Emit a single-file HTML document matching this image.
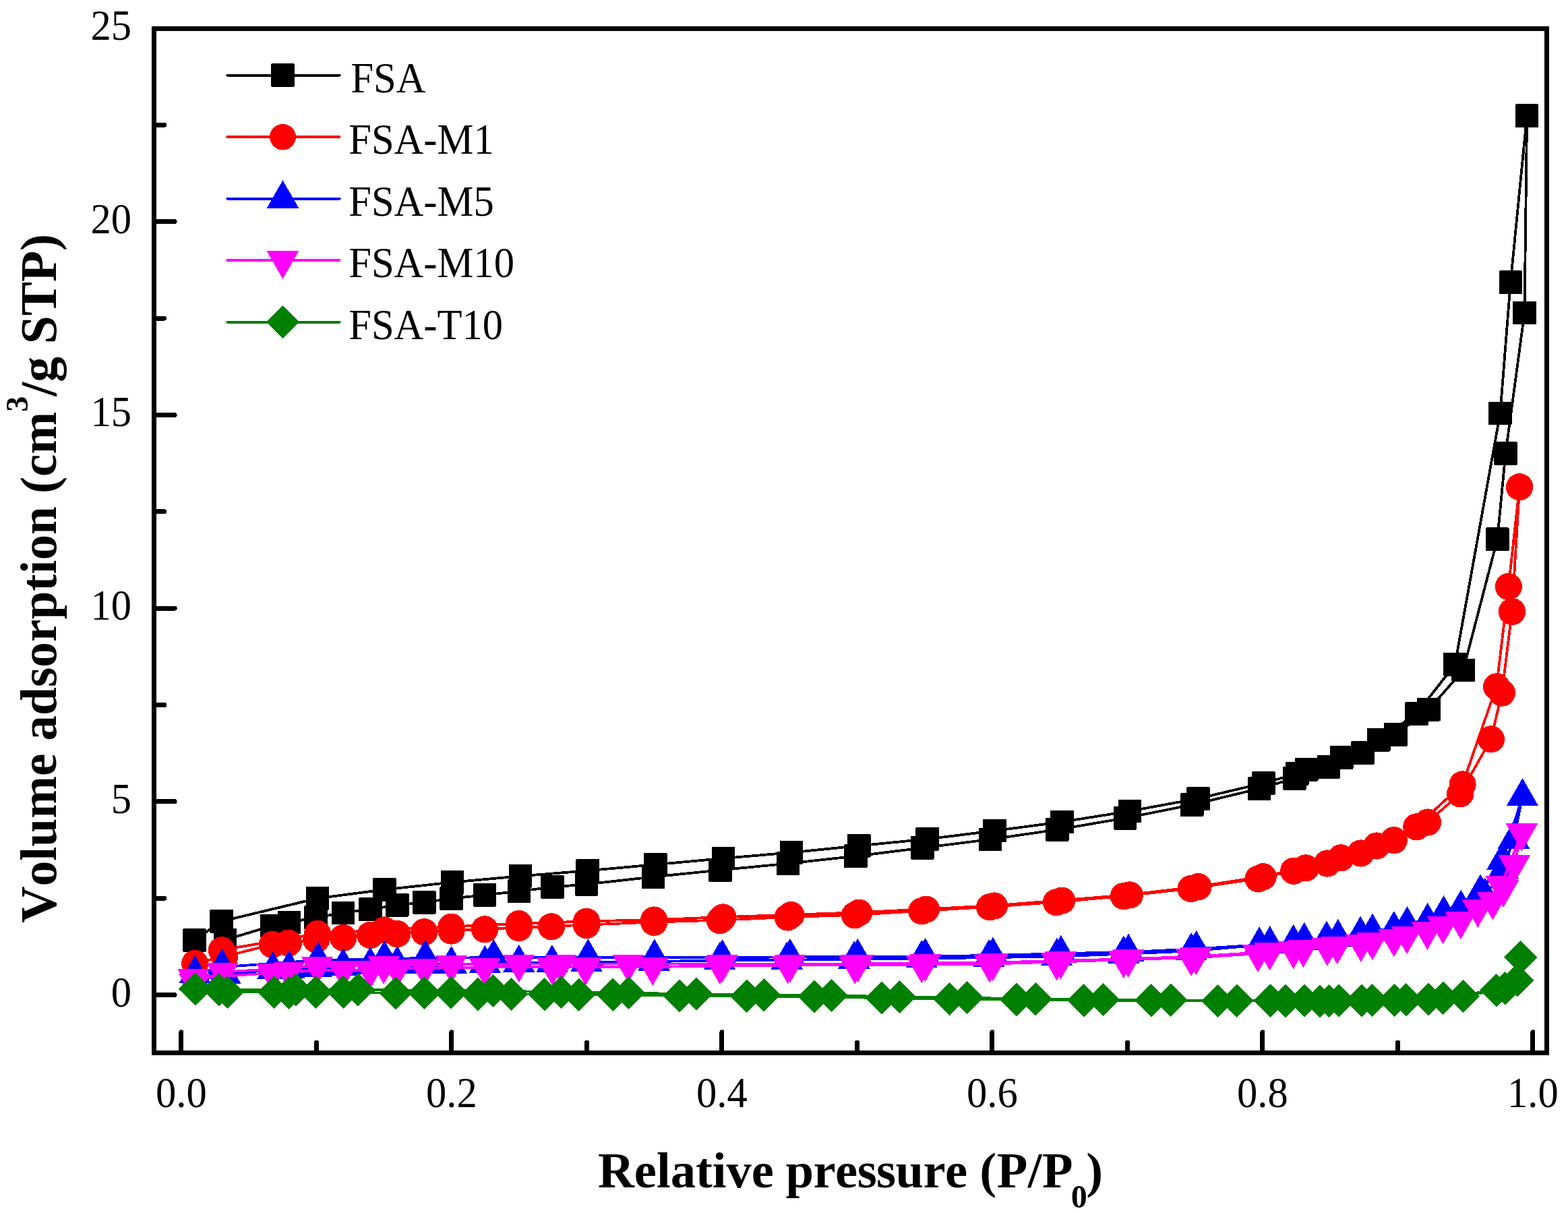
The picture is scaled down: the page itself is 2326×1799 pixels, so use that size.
<!DOCTYPE html>
<html lang="en">
<head>
<meta charset="utf-8">
<title>Volume adsorption vs Relative pressure</title>
<style>
html,body{margin:0;padding:0;background:#fff;}
body{width:2326px;height:1799px;overflow:hidden;}
svg{display:block;}
text{font-kerning:none;font-variant-ligatures:none;}
</style>
</head>
<body>
<svg width="2326" height="1799" viewBox="0 0 2326 1799" shape-rendering="crispEdges">
<rect width="2326" height="1799" fill="#fff"/>
<g fill="#000000" stroke="none">
<polyline points="333.9,1393.9 402.8,1373.3 428.9,1368.1 468.2,1360.7 509.1,1353.8 549.2,1348.6 589.3,1342.3 629.4,1338.3 669.5,1332.6 719,1327.4 769.8,1321.7 819.5,1315.7 870,1311.4 969,1300.5 1068.5,1290.4 1168.9,1280.7 1269.4,1269.7 1368.2,1257.5 1468.9,1244.9 1568.3,1230.4 1669,1213.4 1768.2,1193.6 1868.1,1169.6 1920.2,1154.4 1971.1,1137.2 2021.3,1116.6 2070.4,1089.4 2119.5,1052.2 2170.6,994 2221.2,799.7 2233.4,672.5 2261.5,463.9 2265.1,171.7 2240.8,418.7 2225.4,612.9 2158.4,985.4 2101.5,1058.3 2045.3,1097.3 1990.2,1123.5 1938.3,1141.2 1924.2,1147.5 1874.5,1161.4 1777.5,1184.3 1675.8,1203 1575.6,1218.9 1475.5,1232.1 1375.7,1244.4 1274.4,1254.3 1173.8,1264.4 1073.1,1273 972.3,1282.2 871.6,1291.3 771.8,1299.4 671.1,1308.5 570.3,1319.4 471,1332.3 328.6,1366.4 288.6,1394.5" fill="none" stroke="#000000" stroke-width="3.8" stroke-linejoin="round"/>
<rect x="316.6" y="1376.6" width="34.6" height="34.6" rx="1.5"/>
<rect x="385.5" y="1356" width="34.6" height="34.6" rx="1.5"/>
<rect x="411.6" y="1350.8" width="34.6" height="34.6" rx="1.5"/>
<rect x="450.9" y="1343.4" width="34.6" height="34.6" rx="1.5"/>
<rect x="491.8" y="1336.5" width="34.6" height="34.6" rx="1.5"/>
<rect x="531.9" y="1331.3" width="34.6" height="34.6" rx="1.5"/>
<rect x="572" y="1325" width="34.6" height="34.6" rx="1.5"/>
<rect x="612.1" y="1321" width="34.6" height="34.6" rx="1.5"/>
<rect x="652.2" y="1315.3" width="34.6" height="34.6" rx="1.5"/>
<rect x="701.7" y="1310.1" width="34.6" height="34.6" rx="1.5"/>
<rect x="752.5" y="1304.4" width="34.6" height="34.6" rx="1.5"/>
<rect x="802.2" y="1298.4" width="34.6" height="34.6" rx="1.5"/>
<rect x="852.7" y="1294.1" width="34.6" height="34.6" rx="1.5"/>
<rect x="951.7" y="1283.2" width="34.6" height="34.6" rx="1.5"/>
<rect x="1051.2" y="1273.1" width="34.6" height="34.6" rx="1.5"/>
<rect x="1151.6" y="1263.4" width="34.6" height="34.6" rx="1.5"/>
<rect x="1252.1" y="1252.4" width="34.6" height="34.6" rx="1.5"/>
<rect x="1350.9" y="1240.2" width="34.6" height="34.6" rx="1.5"/>
<rect x="1451.6" y="1227.6" width="34.6" height="34.6" rx="1.5"/>
<rect x="1551" y="1213.1" width="34.6" height="34.6" rx="1.5"/>
<rect x="1651.7" y="1196.1" width="34.6" height="34.6" rx="1.5"/>
<rect x="1750.9" y="1176.3" width="34.6" height="34.6" rx="1.5"/>
<rect x="1850.8" y="1152.3" width="34.6" height="34.6" rx="1.5"/>
<rect x="1902.9" y="1137.1" width="34.6" height="34.6" rx="1.5"/>
<rect x="1953.8" y="1119.9" width="34.6" height="34.6" rx="1.5"/>
<rect x="2004" y="1099.3" width="34.6" height="34.6" rx="1.5"/>
<rect x="2053.1" y="1072.1" width="34.6" height="34.6" rx="1.5"/>
<rect x="2102.2" y="1034.9" width="34.6" height="34.6" rx="1.5"/>
<rect x="2153.3" y="976.7" width="34.6" height="34.6" rx="1.5"/>
<rect x="2203.9" y="782.4" width="34.6" height="34.6" rx="1.5"/>
<rect x="2216.1" y="655.2" width="34.6" height="34.6" rx="1.5"/>
<rect x="2244.2" y="446.6" width="34.6" height="34.6" rx="1.5"/>
<rect x="2247.8" y="154.4" width="34.6" height="34.6" rx="1.5"/>
<rect x="2223.5" y="401.4" width="34.6" height="34.6" rx="1.5"/>
<rect x="2208.1" y="595.6" width="34.6" height="34.6" rx="1.5"/>
<rect x="2141.1" y="968.1" width="34.6" height="34.6" rx="1.5"/>
<rect x="2084.2" y="1041" width="34.6" height="34.6" rx="1.5"/>
<rect x="2028" y="1080" width="34.6" height="34.6" rx="1.5"/>
<rect x="1972.9" y="1106.2" width="34.6" height="34.6" rx="1.5"/>
<rect x="1921" y="1123.9" width="34.6" height="34.6" rx="1.5"/>
<rect x="1906.9" y="1130.2" width="34.6" height="34.6" rx="1.5"/>
<rect x="1857.2" y="1144.1" width="34.6" height="34.6" rx="1.5"/>
<rect x="1760.2" y="1167" width="34.6" height="34.6" rx="1.5"/>
<rect x="1658.5" y="1185.7" width="34.6" height="34.6" rx="1.5"/>
<rect x="1558.3" y="1201.6" width="34.6" height="34.6" rx="1.5"/>
<rect x="1458.2" y="1214.8" width="34.6" height="34.6" rx="1.5"/>
<rect x="1358.4" y="1227.1" width="34.6" height="34.6" rx="1.5"/>
<rect x="1257.1" y="1237" width="34.6" height="34.6" rx="1.5"/>
<rect x="1156.5" y="1247.1" width="34.6" height="34.6" rx="1.5"/>
<rect x="1055.8" y="1255.7" width="34.6" height="34.6" rx="1.5"/>
<rect x="955" y="1264.9" width="34.6" height="34.6" rx="1.5"/>
<rect x="854.3" y="1274" width="34.6" height="34.6" rx="1.5"/>
<rect x="754.5" y="1282.1" width="34.6" height="34.6" rx="1.5"/>
<rect x="653.8" y="1291.2" width="34.6" height="34.6" rx="1.5"/>
<rect x="553" y="1302.1" width="34.6" height="34.6" rx="1.5"/>
<rect x="453.7" y="1315" width="34.6" height="34.6" rx="1.5"/>
<rect x="311.3" y="1349.1" width="34.6" height="34.6" rx="1.5"/>
<rect x="271.2" y="1377.2" width="34.6" height="34.6" rx="1.5"/>
</g>
<g fill="#ff0000" stroke="none">
<polyline points="289.2,1428.5 333.1,1418.8 404,1400.5 427.9,1398.3 469,1393.3 509.1,1390.5 549.2,1386.5 589.3,1384.7 629.4,1381.9 669.5,1380.2 719,1377.9 769.8,1375.6 817.9,1373.9 870,1371.6 970.2,1367.5 1067.9,1364.7 1168.7,1360.1 1268,1356.9 1367.2,1350.9 1468.1,1344.9 1566.9,1337.9 1666.8,1328.8 1766.6,1317.7 1866.5,1303 1919.2,1291.3 1968.9,1280.1 2018.5,1265.1 2067.8,1245.8 2118.1,1219.1 2166.2,1177 2211.9,1095.9 2228,1027.2 2243,906.7 2254.1,721.8 2237.8,869.6 2220,1018 2169.6,1163 2101.3,1226 2042.1,1254.1 1989.2,1271.9 1936.9,1287 1873.7,1299.9 1777.5,1314.8 1675.8,1327 1575.2,1335.2 1475.1,1343.1 1373.9,1348.3 1274.2,1353.2 1173.4,1356.7 1072.5,1360.1 970.2,1364.1 870,1366.4 769.8,1369.8 669.5,1374.4 570.3,1379 471,1384.6 328.9,1408.9" fill="none" stroke="#ff0000" stroke-width="3.8" stroke-linejoin="round"/>
<circle cx="289.2" cy="1428.9" r="20.1"/>
<circle cx="333.1" cy="1419.2" r="20.1"/>
<circle cx="404" cy="1400.9" r="20.1"/>
<circle cx="427.9" cy="1398.7" r="20.1"/>
<circle cx="469" cy="1393.7" r="20.1"/>
<circle cx="509.1" cy="1390.9" r="20.1"/>
<circle cx="549.2" cy="1386.9" r="20.1"/>
<circle cx="589.3" cy="1385.1" r="20.1"/>
<circle cx="629.4" cy="1382.3" r="20.1"/>
<circle cx="669.5" cy="1380.6" r="20.1"/>
<circle cx="719" cy="1378.3" r="20.1"/>
<circle cx="769.8" cy="1376" r="20.1"/>
<circle cx="817.9" cy="1374.3" r="20.1"/>
<circle cx="870" cy="1372" r="20.1"/>
<circle cx="970.2" cy="1367.9" r="20.1"/>
<circle cx="1067.9" cy="1365.1" r="20.1"/>
<circle cx="1168.7" cy="1360.5" r="20.1"/>
<circle cx="1268" cy="1357.3" r="20.1"/>
<circle cx="1367.2" cy="1351.3" r="20.1"/>
<circle cx="1468.1" cy="1345.3" r="20.1"/>
<circle cx="1566.9" cy="1338.3" r="20.1"/>
<circle cx="1666.8" cy="1329.2" r="20.1"/>
<circle cx="1766.6" cy="1318.1" r="20.1"/>
<circle cx="1866.5" cy="1303.4" r="20.1"/>
<circle cx="1919.2" cy="1291.7" r="20.1"/>
<circle cx="1968.9" cy="1280.5" r="20.1"/>
<circle cx="2018.5" cy="1265.5" r="20.1"/>
<circle cx="2067.8" cy="1246.2" r="20.1"/>
<circle cx="2118.1" cy="1219.5" r="20.1"/>
<circle cx="2166.2" cy="1177.4" r="20.1"/>
<circle cx="2211.9" cy="1096.3" r="20.1"/>
<circle cx="2228" cy="1027.6" r="20.1"/>
<circle cx="2243" cy="907.1" r="20.1"/>
<circle cx="2254.1" cy="722.2" r="20.1"/>
<circle cx="2237.8" cy="870" r="20.1"/>
<circle cx="2220" cy="1018.4" r="20.1"/>
<circle cx="2169.6" cy="1163.4" r="20.1"/>
<circle cx="2101.3" cy="1226.4" r="20.1"/>
<circle cx="2042.1" cy="1254.5" r="20.1"/>
<circle cx="1989.2" cy="1272.3" r="20.1"/>
<circle cx="1936.9" cy="1287.4" r="20.1"/>
<circle cx="1873.7" cy="1300.3" r="20.1"/>
<circle cx="1777.5" cy="1315.2" r="20.1"/>
<circle cx="1675.8" cy="1327.4" r="20.1"/>
<circle cx="1575.2" cy="1335.6" r="20.1"/>
<circle cx="1475.1" cy="1343.5" r="20.1"/>
<circle cx="1373.9" cy="1348.7" r="20.1"/>
<circle cx="1274.2" cy="1353.6" r="20.1"/>
<circle cx="1173.4" cy="1357.1" r="20.1"/>
<circle cx="1072.5" cy="1360.5" r="20.1"/>
<circle cx="970.2" cy="1364.5" r="20.1"/>
<circle cx="870" cy="1366.8" r="20.1"/>
<circle cx="769.8" cy="1370.2" r="20.1"/>
<circle cx="669.5" cy="1374.8" r="20.1"/>
<circle cx="570.3" cy="1379.4" r="20.1"/>
<circle cx="471" cy="1385" r="20.1"/>
<circle cx="328.9" cy="1409.3" r="20.1"/>
</g>
<g fill="#0000ff" stroke="none">
<polyline points="289.4,1455.2 333.9,1445.1 404.8,1438.2 428.9,1436.9 469,1434.6 509.1,1433.4 549.2,1431.4 589.3,1430 629.4,1430 669.5,1430.2 719.4,1429.3 769.8,1428 818.9,1428.3 870,1427.1 970.2,1426 1067.5,1424.5 1167.3,1423.7 1267,1422.7 1367.2,1421.4 1467.1,1420.2 1567.7,1418.4 1666.8,1414.7 1767,1410.4 1868.1,1401.6 1918.6,1398.2 1967.9,1393 2018.1,1386.1 2067.8,1378.4 2117.7,1366.2 2167.2,1347 2202.9,1329.2 2229.4,1290.3 2245.4,1244.6 2258.5,1181.3 2228.8,1276.2 2196.1,1323.9 2141.6,1355.5 2087.4,1371.4 2035.9,1382 1984.8,1390.3 1934.7,1395.2 1883.7,1400.4 1774.7,1407.3 1674,1412 1573.8,1414.2 1472.9,1416.9 1372.5,1418.4 1272.4,1419.3 1172,1419.3 1071.5,1420.3 970.9,1419.7 872.4,1419.7 732.3,1420.1 631,1421 570.3,1422.1 471.8,1424.1 329.3,1434.2 289.2,1444.3" fill="none" stroke="#0000ff" stroke-width="3.8" stroke-linejoin="round"/>
<polygon points="289.4,1427.8 313.1,1469.1 265.7,1469.1"/>
<polygon points="333.9,1417.7 357.6,1459 310.2,1459"/>
<polygon points="404.8,1410.8 428.5,1452.1 381.1,1452.1"/>
<polygon points="428.9,1409.5 452.6,1450.8 405.2,1450.8"/>
<polygon points="469,1407.2 492.7,1448.5 445.3,1448.5"/>
<polygon points="509.1,1406 532.8,1447.3 485.4,1447.3"/>
<polygon points="549.2,1404 572.9,1445.3 525.5,1445.3"/>
<polygon points="589.3,1402.6 613,1443.9 565.6,1443.9"/>
<polygon points="629.4,1402.6 653.1,1443.9 605.7,1443.9"/>
<polygon points="669.5,1402.8 693.2,1444.1 645.8,1444.1"/>
<polygon points="719.4,1401.9 743.1,1443.2 695.7,1443.2"/>
<polygon points="769.8,1400.6 793.5,1441.9 746,1441.9"/>
<polygon points="818.9,1400.9 842.6,1442.2 795.2,1442.2"/>
<polygon points="870,1399.7 893.7,1441 846.3,1441"/>
<polygon points="970.2,1398.6 994,1439.9 946.5,1439.9"/>
<polygon points="1067.5,1397.1 1091.2,1438.4 1043.8,1438.4"/>
<polygon points="1167.3,1396.3 1191,1437.6 1143.6,1437.6"/>
<polygon points="1267,1395.3 1290.7,1436.6 1243.3,1436.6"/>
<polygon points="1367.2,1394 1390.9,1435.3 1343.5,1435.3"/>
<polygon points="1467.1,1392.8 1490.8,1434.1 1443.4,1434.1"/>
<polygon points="1567.7,1391 1591.4,1432.3 1544,1432.3"/>
<polygon points="1666.8,1387.3 1690.5,1428.6 1643.1,1428.6"/>
<polygon points="1767,1383 1790.7,1424.3 1743.3,1424.3"/>
<polygon points="1868.1,1374.2 1891.8,1415.5 1844.4,1415.5"/>
<polygon points="1918.6,1370.8 1942.3,1412.1 1894.9,1412.1"/>
<polygon points="1967.9,1365.6 1991.6,1406.9 1944.2,1406.9"/>
<polygon points="2018.1,1358.7 2041.8,1400 1994.4,1400"/>
<polygon points="2067.8,1351 2091.5,1392.3 2044.1,1392.3"/>
<polygon points="2117.7,1338.8 2141.4,1380.1 2094,1380.1"/>
<polygon points="2167.2,1319.6 2190.9,1360.9 2143.5,1360.9"/>
<polygon points="2202.9,1301.8 2226.6,1343.1 2179.2,1343.1"/>
<polygon points="2229.4,1262.9 2253.1,1304.2 2205.7,1304.2"/>
<polygon points="2245.4,1217.2 2269.1,1258.5 2221.7,1258.5"/>
<polygon points="2258.5,1153.9 2282.2,1195.2 2234.8,1195.2"/>
<polygon points="2228.8,1248.8 2252.5,1290.1 2205.1,1290.1"/>
<polygon points="2196.1,1296.5 2219.8,1337.8 2172.4,1337.8"/>
<polygon points="2141.6,1328.1 2165.3,1369.4 2117.9,1369.4"/>
<polygon points="2087.4,1344 2111.1,1385.3 2063.7,1385.3"/>
<polygon points="2035.9,1354.6 2059.6,1395.9 2012.2,1395.9"/>
<polygon points="1984.8,1362.9 2008.5,1404.2 1961.1,1404.2"/>
<polygon points="1934.7,1367.8 1958.4,1409.1 1911,1409.1"/>
<polygon points="1883.7,1373 1907.4,1414.3 1860,1414.3"/>
<polygon points="1774.7,1379.9 1798.4,1421.2 1751,1421.2"/>
<polygon points="1674,1384.6 1697.7,1425.9 1650.3,1425.9"/>
<polygon points="1573.8,1386.8 1597.5,1428.1 1550.1,1428.1"/>
<polygon points="1472.9,1389.5 1496.6,1430.8 1449.2,1430.8"/>
<polygon points="1372.5,1391 1396.2,1432.3 1348.8,1432.3"/>
<polygon points="1272.4,1391.9 1296.1,1433.2 1248.7,1433.2"/>
<polygon points="1172,1391.9 1195.7,1433.2 1148.3,1433.2"/>
<polygon points="1071.5,1392.9 1095.2,1434.2 1047.8,1434.2"/>
<polygon points="970.9,1392.3 994.6,1433.6 947.2,1433.6"/>
<polygon points="872.4,1392.3 896.1,1433.6 848.7,1433.6"/>
<polygon points="732.3,1392.7 756,1434 708.6,1434"/>
<polygon points="631,1393.6 654.7,1434.9 607.3,1434.9"/>
<polygon points="570.3,1394.7 594,1436 546.6,1436"/>
<polygon points="471.8,1396.7 495.5,1438 448.1,1438"/>
<polygon points="329.3,1406.8 353,1448.1 305.6,1448.1"/>
<polygon points="289.2,1416.9 312.9,1458.2 265.5,1458.2"/>
</g>
<g fill="#ff00ff" stroke="none">
<polyline points="287.1,1450.9 403.8,1443 428.9,1440.6 509.1,1438.6 549.2,1438.6 589.3,1436.9 629.4,1435.7 719,1434.4 819.5,1434.1 868.6,1434.1 968.2,1434.1 1067.9,1432.3 1168.7,1431.6 1268,1431.6 1367.2,1430.5 1468.1,1429.6 1567.5,1426.5 1666.8,1423.3 1767,1420.3 1866.1,1414.3 1918.6,1409.4 1968.9,1405.1 2018.9,1399.3 2067.8,1391.6 2117.3,1381.1 2166.8,1365.5 2214.4,1336.8 2230,1318.3 2246.4,1282.1 2257.5,1235.2 2226.8,1312.7 2192.3,1348.1 2140.6,1372.6 2087,1387.3 2035.9,1396.5 1983.6,1402.6 1933.3,1407.5 1883.7,1411.6 1774.3,1418.5 1673.6,1422.2 1573.4,1425 1472.9,1427.4 1372.5,1428.3 1272.6,1429.4 1172.4,1429.4 1071.5,1429.6 932,1429.4 831.9,1429.4 769.8,1429.4 669.5,1430.4 569.2,1432 470.6,1432.9 330.1,1441.7 288.6,1457.5" fill="none" stroke="#ff00ff" stroke-width="3.8" stroke-linejoin="round"/>
<polygon points="287.1,1478.7 310.8,1437.1 263.4,1437.1"/>
<polygon points="403.8,1470.8 427.5,1429.2 380.1,1429.2"/>
<polygon points="428.9,1468.4 452.6,1426.8 405.2,1426.8"/>
<polygon points="509.1,1466.4 532.8,1424.8 485.4,1424.8"/>
<polygon points="549.2,1466.4 572.9,1424.8 525.5,1424.8"/>
<polygon points="589.3,1464.7 613,1423.1 565.6,1423.1"/>
<polygon points="629.4,1463.5 653.1,1421.9 605.7,1421.9"/>
<polygon points="719,1462.2 742.7,1420.6 695.3,1420.6"/>
<polygon points="819.5,1461.9 843.2,1420.3 795.8,1420.3"/>
<polygon points="868.6,1461.9 892.3,1420.3 844.9,1420.3"/>
<polygon points="968.2,1461.9 991.9,1420.3 944.5,1420.3"/>
<polygon points="1067.9,1460.1 1091.6,1418.5 1044.2,1418.5"/>
<polygon points="1168.7,1459.4 1192.4,1417.8 1145,1417.8"/>
<polygon points="1268,1459.4 1291.7,1417.8 1244.3,1417.8"/>
<polygon points="1367.2,1458.3 1390.9,1416.7 1343.5,1416.7"/>
<polygon points="1468.1,1457.4 1491.8,1415.8 1444.4,1415.8"/>
<polygon points="1567.5,1454.3 1591.2,1412.7 1543.8,1412.7"/>
<polygon points="1666.8,1451.1 1690.5,1409.5 1643.1,1409.5"/>
<polygon points="1767,1448.1 1790.7,1406.5 1743.3,1406.5"/>
<polygon points="1866.1,1442.1 1889.8,1400.5 1842.4,1400.5"/>
<polygon points="1918.6,1437.2 1942.3,1395.6 1894.9,1395.6"/>
<polygon points="1968.9,1432.9 1992.6,1391.3 1945.2,1391.3"/>
<polygon points="2018.9,1427.1 2042.6,1385.5 1995.2,1385.5"/>
<polygon points="2067.8,1419.4 2091.5,1377.8 2044.1,1377.8"/>
<polygon points="2117.3,1408.9 2141,1367.3 2093.6,1367.3"/>
<polygon points="2166.8,1393.3 2190.5,1351.7 2143.1,1351.7"/>
<polygon points="2214.4,1364.6 2238.1,1323 2190.7,1323"/>
<polygon points="2230,1346.1 2253.7,1304.5 2206.3,1304.5"/>
<polygon points="2246.4,1309.9 2270.1,1268.3 2222.7,1268.3"/>
<polygon points="2257.5,1263 2281.2,1221.4 2233.8,1221.4"/>
<polygon points="2226.8,1340.5 2250.5,1298.9 2203.1,1298.9"/>
<polygon points="2192.3,1375.9 2216,1334.3 2168.6,1334.3"/>
<polygon points="2140.6,1400.4 2164.3,1358.8 2116.9,1358.8"/>
<polygon points="2087,1415.1 2110.7,1373.5 2063.3,1373.5"/>
<polygon points="2035.9,1424.3 2059.6,1382.7 2012.2,1382.7"/>
<polygon points="1983.6,1430.4 2007.3,1388.8 1959.9,1388.8"/>
<polygon points="1933.3,1435.3 1957,1393.7 1909.6,1393.7"/>
<polygon points="1883.7,1439.4 1907.4,1397.8 1860,1397.8"/>
<polygon points="1774.3,1446.3 1798,1404.7 1750.6,1404.7"/>
<polygon points="1673.6,1450 1697.3,1408.4 1649.9,1408.4"/>
<polygon points="1573.4,1452.8 1597.1,1411.2 1549.7,1411.2"/>
<polygon points="1472.9,1455.2 1496.6,1413.6 1449.2,1413.6"/>
<polygon points="1372.5,1456.1 1396.2,1414.5 1348.8,1414.5"/>
<polygon points="1272.6,1457.2 1296.3,1415.6 1248.9,1415.6"/>
<polygon points="1172.4,1457.2 1196.1,1415.6 1148.7,1415.6"/>
<polygon points="1071.5,1457.4 1095.2,1415.8 1047.8,1415.8"/>
<polygon points="932,1457.2 955.7,1415.6 908.3,1415.6"/>
<polygon points="831.9,1457.2 855.6,1415.6 808.2,1415.6"/>
<polygon points="769.8,1457.2 793.5,1415.6 746,1415.6"/>
<polygon points="669.5,1458.2 693.2,1416.6 645.8,1416.6"/>
<polygon points="569.2,1459.8 593,1418.2 545.5,1418.2"/>
<polygon points="470.6,1460.7 494.3,1419.1 446.9,1419.1"/>
<polygon points="330.1,1469.5 353.8,1427.9 306.4,1427.9"/>
<polygon points="288.6,1485.3 312.2,1443.7 264.9,1443.7"/>
</g>
<g fill="#008000" stroke="none">
<polyline points="289.6,1467 337.3,1471.5 406.4,1471.5 428.9,1472.4 468.2,1471.5 509.1,1471.5 587.3,1473 629.4,1472.7 668.7,1472.1 709,1474.5 758.3,1474.5 807.8,1474.7 858.8,1475.4 909.1,1475.4 1007.9,1476.8 1107.8,1477.4 1208,1478.3 1307.9,1480.1 1408.5,1481.9 1508,1482.5 1607.8,1483.8 1707.7,1483.8 1806.7,1484.6 1907,1484.6 1957.9,1485 1985.8,1484.1 2019.9,1484.1 2068.8,1483.5 2119.1,1482.2 2170.2,1477.5 2219.8,1468.8 2250.8,1453.7 2255.7,1419.9 2232.8,1465.8 2140.8,1480.3 2085.8,1482.8 2035.7,1483.7 1971.5,1484.6 1935.1,1484.1 1884.5,1484.1 1834.6,1484.1 1736.8,1483.4 1636.5,1482.5 1536.3,1481.9 1434.6,1479.6 1334.6,1478.3 1233.7,1476.5 1133.1,1475.6 1033,1474.3 932.4,1472.7 832.5,1471.4 731.7,1469.5 531.2,1467.8 438.9,1467.8 324.6,1467.9" fill="none" stroke="#008000" stroke-width="3.8" stroke-linejoin="round"/>
<polygon points="289.6,1442.4 314.2,1467 289.6,1491.6 265,1467"/>
<polygon points="337.3,1446.9 361.9,1471.5 337.3,1496.1 312.7,1471.5"/>
<polygon points="406.4,1446.9 431,1471.5 406.4,1496.1 381.8,1471.5"/>
<polygon points="428.9,1447.8 453.5,1472.4 428.9,1497 404.3,1472.4"/>
<polygon points="468.2,1446.9 492.8,1471.5 468.2,1496.1 443.6,1471.5"/>
<polygon points="509.1,1446.9 533.7,1471.5 509.1,1496.1 484.5,1471.5"/>
<polygon points="587.3,1448.4 611.9,1473 587.3,1497.6 562.7,1473"/>
<polygon points="629.4,1448.1 654,1472.7 629.4,1497.3 604.8,1472.7"/>
<polygon points="668.7,1447.5 693.3,1472.1 668.7,1496.7 644.1,1472.1"/>
<polygon points="709,1449.9 733.6,1474.5 709,1499.1 684.4,1474.5"/>
<polygon points="758.3,1449.9 782.9,1474.5 758.3,1499.1 733.7,1474.5"/>
<polygon points="807.8,1450.1 832.4,1474.7 807.8,1499.3 783.2,1474.7"/>
<polygon points="858.8,1450.8 883.4,1475.4 858.8,1500 834.2,1475.4"/>
<polygon points="909.1,1450.8 933.7,1475.4 909.1,1500 884.5,1475.4"/>
<polygon points="1007.9,1452.2 1032.5,1476.8 1007.9,1501.4 983.3,1476.8"/>
<polygon points="1107.8,1452.8 1132.4,1477.4 1107.8,1502 1083.2,1477.4"/>
<polygon points="1208,1453.7 1232.6,1478.3 1208,1502.9 1183.4,1478.3"/>
<polygon points="1307.9,1455.5 1332.5,1480.1 1307.9,1504.7 1283.3,1480.1"/>
<polygon points="1408.5,1457.3 1433.1,1481.9 1408.5,1506.5 1383.9,1481.9"/>
<polygon points="1508,1457.9 1532.6,1482.5 1508,1507.1 1483.4,1482.5"/>
<polygon points="1607.8,1459.2 1632.4,1483.8 1607.8,1508.4 1583.2,1483.8"/>
<polygon points="1707.7,1459.2 1732.3,1483.8 1707.7,1508.4 1683.1,1483.8"/>
<polygon points="1806.7,1460 1831.3,1484.6 1806.7,1509.2 1782.1,1484.6"/>
<polygon points="1907,1460 1931.6,1484.6 1907,1509.2 1882.4,1484.6"/>
<polygon points="1957.9,1460.4 1982.5,1485 1957.9,1509.6 1933.3,1485"/>
<polygon points="1985.8,1459.5 2010.4,1484.1 1985.8,1508.7 1961.2,1484.1"/>
<polygon points="2019.9,1459.5 2044.5,1484.1 2019.9,1508.7 1995.3,1484.1"/>
<polygon points="2068.8,1458.9 2093.4,1483.5 2068.8,1508.1 2044.2,1483.5"/>
<polygon points="2119.1,1457.6 2143.7,1482.2 2119.1,1506.8 2094.5,1482.2"/>
<polygon points="2170.2,1452.9 2194.8,1477.5 2170.2,1502.1 2145.6,1477.5"/>
<polygon points="2219.8,1444.2 2244.4,1468.8 2219.8,1493.4 2195.2,1468.8"/>
<polygon points="2250.8,1429.1 2275.4,1453.7 2250.8,1478.3 2226.2,1453.7"/>
<polygon points="2255.7,1395.3 2280.3,1419.9 2255.7,1444.5 2231.1,1419.9"/>
<polygon points="2232.8,1441.2 2257.4,1465.8 2232.8,1490.4 2208.2,1465.8"/>
<polygon points="2140.8,1455.7 2165.4,1480.3 2140.8,1504.9 2116.2,1480.3"/>
<polygon points="2085.8,1458.2 2110.4,1482.8 2085.8,1507.4 2061.2,1482.8"/>
<polygon points="2035.7,1459.1 2060.3,1483.7 2035.7,1508.3 2011.1,1483.7"/>
<polygon points="1971.5,1460 1996.1,1484.6 1971.5,1509.2 1946.9,1484.6"/>
<polygon points="1935.1,1459.5 1959.7,1484.1 1935.1,1508.7 1910.5,1484.1"/>
<polygon points="1884.5,1459.5 1909.1,1484.1 1884.5,1508.7 1859.9,1484.1"/>
<polygon points="1834.6,1459.5 1859.2,1484.1 1834.6,1508.7 1810,1484.1"/>
<polygon points="1736.8,1458.8 1761.4,1483.4 1736.8,1508 1712.2,1483.4"/>
<polygon points="1636.5,1457.9 1661.1,1482.5 1636.5,1507.1 1611.9,1482.5"/>
<polygon points="1536.3,1457.3 1560.9,1481.9 1536.3,1506.5 1511.7,1481.9"/>
<polygon points="1434.6,1455 1459.2,1479.6 1434.6,1504.2 1410,1479.6"/>
<polygon points="1334.6,1453.7 1359.2,1478.3 1334.6,1502.9 1310,1478.3"/>
<polygon points="1233.7,1451.9 1258.3,1476.5 1233.7,1501.1 1209.1,1476.5"/>
<polygon points="1133.1,1451 1157.7,1475.6 1133.1,1500.2 1108.5,1475.6"/>
<polygon points="1033,1449.7 1057.6,1474.3 1033,1498.9 1008.4,1474.3"/>
<polygon points="932.4,1448.1 957,1472.7 932.4,1497.3 907.8,1472.7"/>
<polygon points="832.5,1446.8 857.1,1471.4 832.5,1496 807.9,1471.4"/>
<polygon points="731.7,1444.9 756.3,1469.5 731.7,1494.1 707.1,1469.5"/>
<polygon points="531.2,1443.2 555.8,1467.8 531.2,1492.4 506.6,1467.8"/>
<polygon points="438.9,1443.2 463.5,1467.8 438.9,1492.4 414.3,1467.8"/>
<polygon points="324.6,1443.3 349.2,1467.9 324.6,1492.5 300,1467.9"/>
</g>
<g stroke="#000" stroke-width="7.0" fill="none" stroke-linecap="round" stroke-linejoin="miter">
<rect x="228.5" y="42.3" width="2066" height="1519.2"/>
<path d="M228.5 1475.6h30.6M228.5 1332.2h15.3M228.5 1188.8h30.6M228.5 1045.5h15.3M228.5 902.1h30.6M228.5 758.7h15.3M228.5 615.3h30.6M228.5 472h15.3M228.5 328.6h30.6M228.5 185.2h15.3M268.9 1561.5v-30.6M469.4 1561.5v-15.3M669.9 1561.5v-30.6M870.4 1561.5v-15.3M1070.9 1561.5v-30.6M1271.4 1561.5v-15.3M1471.9 1561.5v-30.6M1672.4 1561.5v-15.3M1872.9 1561.5v-30.6M2073.4 1561.5v-15.3M2273.9 1561.5v-30.6"/>
</g>
<g font-family="'Liberation Serif', 'Times New Roman', serif" font-size="60.6" fill="#000">
<text transform="translate(195,1492.7) scale(1,1.06)" text-anchor="end">0</text>
<text transform="translate(195,1205.9) scale(1,1.06)" text-anchor="end">5</text>
<text transform="translate(195,919.2) scale(1,1.06)" text-anchor="end">10</text>
<text transform="translate(195,632.4) scale(1,1.06)" text-anchor="end">15</text>
<text transform="translate(195,345.7) scale(1,1.06)" text-anchor="end">20</text>
<text transform="translate(195,58.9) scale(1,1.06)" text-anchor="end">25</text>
<text transform="translate(268.9,1642.0) scale(1,1.06)" text-anchor="middle">0.0</text>
<text transform="translate(669.9,1642.0) scale(1,1.06)" text-anchor="middle">0.2</text>
<text transform="translate(1070.9,1642.0) scale(1,1.06)" text-anchor="middle">0.4</text>
<text transform="translate(1471.9,1642.0) scale(1,1.06)" text-anchor="middle">0.6</text>
<text transform="translate(1872.9,1642.0) scale(1,1.06)" text-anchor="middle">0.8</text>
<text transform="translate(2273.9,1642.0) scale(1,1.06)" text-anchor="middle">1.0</text>
<text transform="translate(520.4000000000001,136.9) scale(1,1.06)">FSA</text>
<text transform="translate(517.2,228.4) scale(1,1.06)">FSA-M1</text>
<text transform="translate(517.2,319.9) scale(1,1.06)">FSA-M5</text>
<text transform="translate(517.2,411.4) scale(1,1.06)">FSA-M10</text>
<text transform="translate(517.2,502.9) scale(1,1.06)">FSA-T10</text>
</g>
<g fill="#000000"><path d="M337.5 111.7H503.5" stroke="#000000" stroke-width="4.2" stroke-linecap="round"/><rect x="402.2" y="94.4" width="34.6" height="34.6" rx="1.5"/></g>
<g fill="#ff0000"><path d="M337.5 203.2H503.5" stroke="#ff0000" stroke-width="4.2" stroke-linecap="round"/><circle cx="419.5" cy="203.2" r="19.4"/></g>
<g fill="#0000ff"><path d="M337.5 294.7H503.5" stroke="#0000ff" stroke-width="4.2" stroke-linecap="round"/><polygon points="419.5,267.3 443.2,308.6 395.8,308.6"/></g>
<g fill="#ff00ff"><path d="M337.5 386.2H503.5" stroke="#ff00ff" stroke-width="4.2" stroke-linecap="round"/><polygon points="419.5,414 443.2,372.4 395.8,372.4"/></g>
<g fill="#008000"><path d="M337.5 477.7H503.5" stroke="#008000" stroke-width="4.2" stroke-linecap="round"/><polygon points="419.5,453.1 444.1,477.7 419.5,502.3 394.9,477.7"/></g>
<g font-family="'Liberation Serif', 'Times New Roman', serif" font-weight="bold" fill="#000">
<text y="1760.7" font-size="74.6"><tspan x="887">Relative</tspan> <tspan x="1165.6" letter-spacing="-0.55">pressure</tspan> <tspan x="1453.2" letter-spacing="0.6">(P/P</tspan><tspan font-size="48" dy="30" dx="-3.5">0</tspan><tspan dy="-30" dx="-1.5">)</tspan></text>
<text transform="translate(82.8,1368.8) rotate(-90)" font-size="75.4">Volume adsorption (cm<tspan font-size="46" dy="-42">3</tspan><tspan dy="42">/g STP)</tspan></text>
</g>
</svg>
</body>
</html>
